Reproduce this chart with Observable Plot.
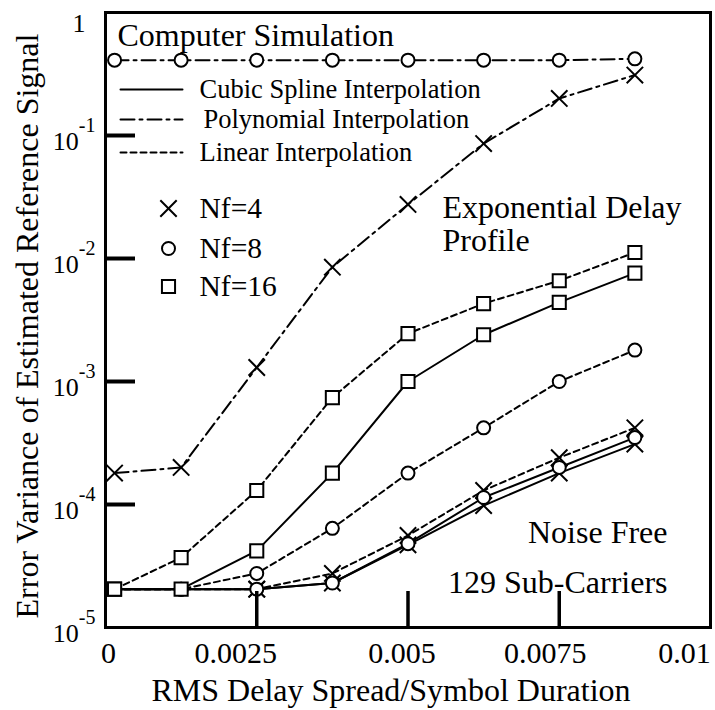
<!DOCTYPE html>
<html><head><meta charset="utf-8">
<script src="https://cdn.jsdelivr.net/npm/d3@7"></script>
<script src="https://cdn.jsdelivr.net/npm/@observablehq/plot@0.6"></script>
<style>body{margin:0;background:#fff} svg{display:block}</style>
</head><body><div id="chart"></div>
<script>
// ---- data ----
const delay = [0.00015, 0.00125, 0.0025, 0.00375, 0.005, 0.00625, 0.0075, 0.00875];
const polyNf4   = [1.8e-4, 2.0e-4, 1.3e-3, 8.5e-3, 0.0275, 0.086, 0.20, 0.31];
const polyNf8   = [0.41, 0.41, 0.41, 0.41, 0.41, 0.41, 0.41, 0.42];
const splineNf4 = [2.05e-5, 2.05e-5, 2.05e-5, 2.3e-5, 4.7e-5, 9.8e-5, 1.8e-4, 3.1e-4];
const splineNf8 = [2.05e-5, 2.05e-5, 2.05e-5, 2.3e-5, 4.8e-5, 1.14e-4, 2.0e-4, 3.5e-4];
const splineNf16= [2.05e-5, 2.05e-5, 4.2e-5, 1.8e-4, 1.0e-3, 2.4e-3, 4.4e-3, 7.6e-3];
const linearNf4 = [2.05e-5, 2.05e-5, 2.05e-5, 2.75e-5, 5.6e-5, 1.3e-4, 2.4e-4, 4.2e-4];
const linearNf8 = [2.05e-5, 2.05e-5, 2.75e-5, 6.4e-5, 1.8e-4, 4.2e-4, 1.0e-3, 1.8e-3];
const linearNf16= [2.05e-5, 3.7e-5, 1.3e-4, 7.4e-4, 2.45e-3, 4.3e-3, 6.6e-3, 0.0112];

const methods = ["Cubic Spline Interpolation", "Polynomial Interpolation", "Linear Interpolation"];
const nfLabels = ["Nf=4", "Nf=8", "Nf=16"];
const xTicks = [0, 0.0025, 0.005, 0.0075, 0.01];
const xTickLabels = ["0", "0.0025", "0.005", "0.0075", "0.01"];
const yTicks = [1e-5, 1e-4, 1e-3, 1e-2, 1e-1];
const yTickLabels = ["10^-5", "10^-4", "10^-3", "10^-2", "10^-1"];
const yTopTick = [1];
const yTopLabel = ["1"];
const xLabel = "RMS Delay Spread/Symbol Duration";
const yLabel = "Error Variance of Estimated Reference Signal";
const titleNote = "Computer Simulation";
const profileNote = ["Exponential Delay", "Profile"];
const conditionNotes = ["Noise Free", "129 Sub-Carriers"];

// ---- layout ----
const W = 715, H = 710;
const ML = 105, MR = 5, MT = 12, MB = 83;
const X0 = ML, X1 = W - MR, Y0 = H - MB, Y1 = MT;
const fx = px => (px - X0) / (X1 - X0) * 0.01;
const fy = py => Math.pow(10, -5 + 5 * (Y0 - py) / (Y0 - Y1));

const series = [
  {method: methods[0], nf: "Nf=4", values: splineNf4},
  {method: methods[0], nf: "Nf=8", values: splineNf8},
  {method: methods[0], nf: "Nf=16", values: splineNf16},
  {method: methods[1], nf: "Nf=4", values: polyNf4},
  {method: methods[1], nf: "Nf=8", values: polyNf8},
  {method: methods[2], nf: "Nf=4", values: linearNf4},
  {method: methods[2], nf: "Nf=8", values: linearNf8},
  {method: methods[2], nf: "Nf=16", values: linearNf16}
];
const rows = series.flatMap(s => s.values.map((v, i) => ({x: delay[i], y: v, method: s.method, nf: s.nf, key: s.method + s.nf, i})));
const firstMarker = {"Nf=4": 2, "Nf=8": 1, "Nf=16": 0};
const markerRows = rows.filter(r => r.method === methods[1] || r.i >= firstMarker[r.nf]);

const dash = {[methods[0]]: null, [methods[1]]: "14,5,3,5", [methods[2]]: "6,4"};
const symbolOf = {"Nf=4": "times", "Nf=8": "circle", "Nf=16": "square"};
const rOf = {"Nf=4": 7.5, "Nf=8": 6.5, "Nf=16": 7.4};

const lineMarks = methods.map(m => Plot.line(rows.filter(r => r.method === m), {
  x: "x", y: "y", z: "key", stroke: "black", strokeWidth: 2, strokeDasharray: dash[m]
}));
const dotMarks = nfLabels.map(n => Plot.dot(markerRows.filter(r => r.nf === n), {
  x: "x", y: "y", symbol: () => symbolOf[n], r: rOf[n], stroke: "black", strokeWidth: 2, fill: "white"
}));

// legend
const legendLineY = [89, 119, 152];
const legendTextX = [199, 203, 199];
const legendLines = methods.map((m, k) => Plot.line([{x: fx(120), y: fy(legendLineY[k])}, {x: fx(182), y: fy(legendLineY[k])}], {
  x: "x", y: "y", stroke: "black", strokeWidth: 2, strokeDasharray: dash[m]
}));
const legendTexts = Plot.text(methods, {
  x: (d, i) => fx(legendTextX[i]), y: (d, i) => fy(legendLineY[i]), text: d => d,
  textAnchor: "start", fontSize: 26.5
});
const nfY = [208, 248, 286];
const legendDots = nfLabels.map((n, k) => Plot.dot([n], {
  x: () => fx(168), y: () => fy(nfY[k]), symbol: () => symbolOf[n], r: rOf[n], stroke: "black", strokeWidth: 2, fill: "white"
}));
const nfTexts = Plot.text(nfLabels, {
  x: () => fx(199), y: (d, i) => fy(nfY[i]), text: d => d, textAnchor: "start", fontSize: 29.5
});

const notesMarks = [
  Plot.text([titleNote], {x: () => fx(117), y: () => fy(35), text: d => d, textAnchor: "start", fontSize: 32}),
  Plot.text(profileNote, {x: () => fx(442), y: (d, i) => fy(207 + 33 * i), text: d => d, textAnchor: "start", fontSize: 32}),
  Plot.text(conditionNotes, {x: () => fx(667), y: (d, i) => fy([532, 582][i]), text: d => d, textAnchor: "end", fontSize: 32})
];

// x tick labels sit slightly left of their ticks in the reference
const xLabelDx = [3, -21, -6, -14, -26];
const xLabelAxes = xTicks.map((t, i) => Plot.axisX({
  ticks: [t], tickFormat: () => xTickLabels[i], tickSize: 0, tickPadding: 14, fontSize: 30, dx: xLabelDx[i]
}));

const chart = Plot.plot({
  width: W, height: H,
  marginLeft: ML, marginRight: MR, marginTop: MT, marginBottom: MB,
  style: {fontFamily: "'Liberation Serif', 'Times New Roman', serif", fontSize: "26px", background: "white", color: "black"},
  x: {domain: [0, 0.01], label: null},
  y: {type: "log", domain: [1e-5, 1], label: null},
  marks: [
    ...lineMarks,
    ...dotMarks,
    ...legendLines,
    legendTexts,
    ...legendDots,
    nfTexts,
    ...notesMarks,
    Plot.axisX({ticks: [0.0025, 0.005, 0.0075], tickSize: -36, text: null, strokeWidth: 3.5}),
    Plot.axisY({ticks: [1e-4, 1e-3, 1e-2, 1e-1], tickSize: -30, text: null, strokeWidth: 4}),
    ...xLabelAxes,
    Plot.axisY({ticks: yTicks, tickFormat: d => yTickLabels[yTicks.indexOf(d)], tickSize: 0, tickPadding: 10, fontSize: 26, dy: 6}),
    Plot.axisY({ticks: yTopTick, tickFormat: () => yTopLabel[0], tickSize: 0, tickPadding: 10, fontSize: 26, dx: -10, dy: 11}),
    Plot.text([xLabel], {frameAnchor: "bottom", lineAnchor: "middle", dy: 63, dx: -17, text: d => d, fontSize: 32}),
    Plot.text([yLabel], {frameAnchor: "left", textAnchor: "middle", lineAnchor: "middle", rotate: -90, dx: -78, dy: 6, text: d => d, fontSize: 32}),
    Plot.frame({stroke: "black", strokeWidth: 3})
  ]
});

// superscript exponents on y tick labels
const ns = "http://www.w3.org/2000/svg";
chart.querySelectorAll('g[aria-label="y-axis tick label"] text').forEach(t => {
  const m = t.textContent.match(/^(\d+)\^(.+)$/);
  if (m) {
    t.textContent = "";
    const a = document.createElementNS(ns, "tspan"); a.textContent = m[1];
    const b = document.createElementNS(ns, "tspan"); b.textContent = m[2];
    b.setAttribute("dy", "-18"); b.setAttribute("font-size", "20");
    t.append(a, b);
  }
});
document.getElementById("chart").append(chart);
</script>
</body></html>
